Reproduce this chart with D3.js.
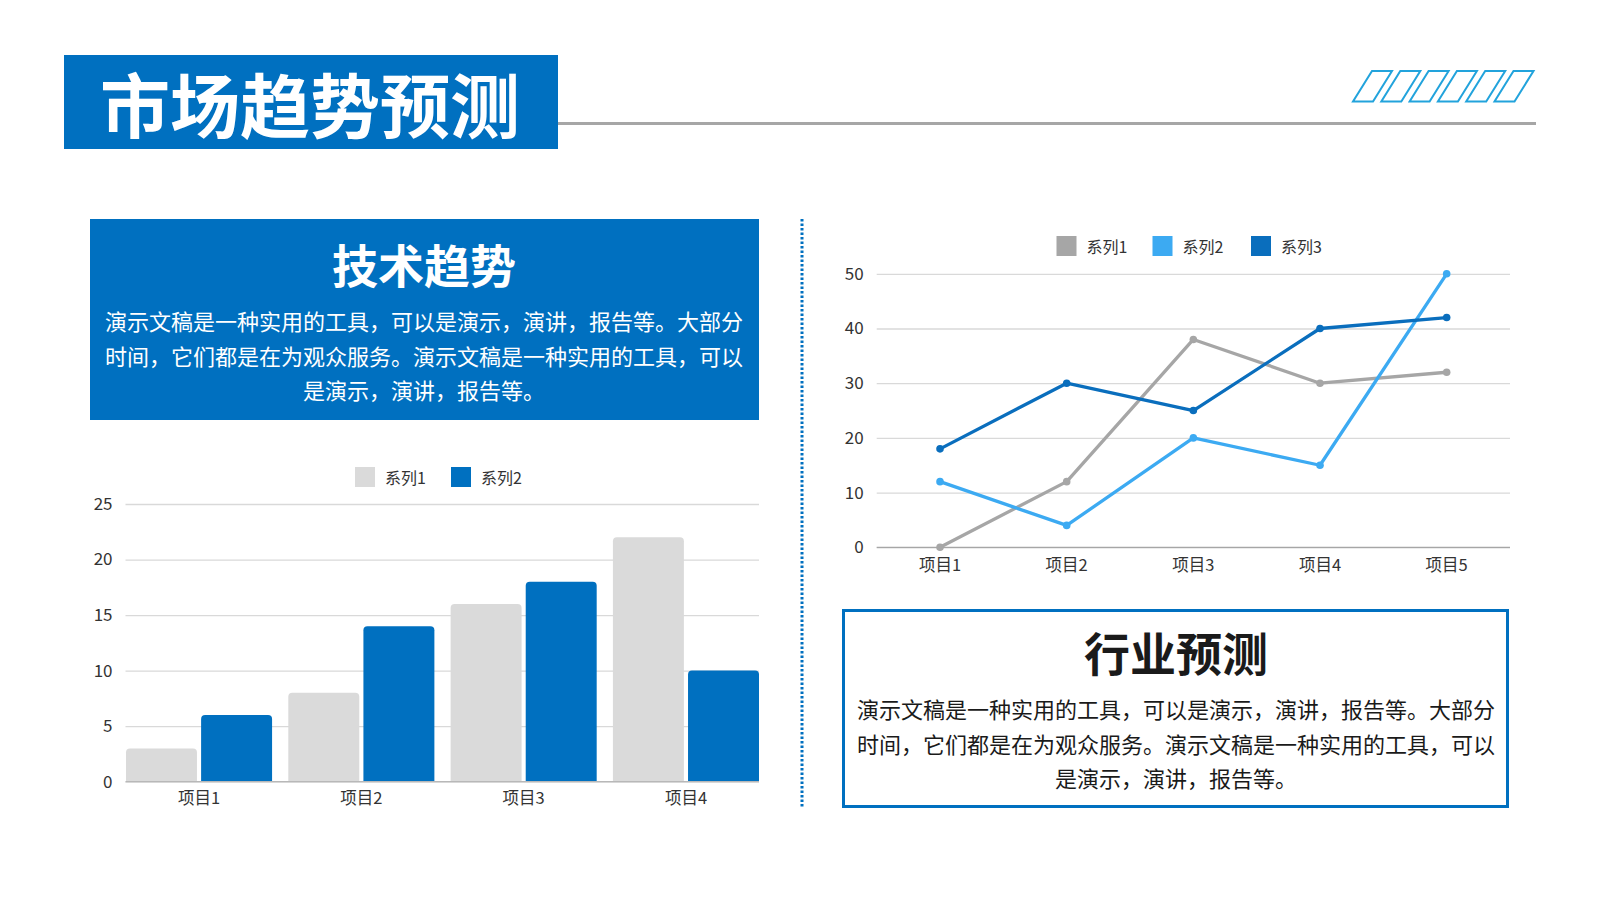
<!DOCTYPE html>
<html>
<head>
<meta charset="utf-8">
<script src="https://cdn.jsdelivr.net/npm/d3@7"></script>
<style>
body{margin:0;background:#fff;}
svg{display:block;}
text{font-family:"Noto Sans CJK SC","Noto Sans",sans-serif;}
</style>
</head>
<body>
<div id="canvas"></div>
<script>
//    data
var barCategories = ['项目1','项目2','项目3','项目4'];
var barSeries = ['系列1','系列2'];
var barValues1 = [3,8,16,22];
var barValues2 = [6,14,18,10];
var barTicks = [0,5,10,15,20,25];

var lineCategories = ['项目1','项目2','项目3','项目4','项目5'];
var lineSeries = ['系列1','系列2','系列3'];
var lineValues1 = [0,12,38,30,32];
var lineValues2 = [12,4,20,15,50];
var lineValues3 = [18,30,25,40,42];
var lineTicks = [0,10,20,30,40,50];

var bodyLines = [
    '演示文稿是一种实用的工具，可以是演示，演讲，报告等。大部分',
    '时间，它们都是在为观众服务。演示文稿是一种实用的工具，可以',
    '是演示，演讲，报告等。'
];

var blue = '#0070c0';
var barColors = ['#dadada', blue];
var lineColors = ['#a6a6a6', '#3caaf2', '#0a6ebd'];

//    svg
var svg = d3.select('#canvas')
    .append('svg')
    .attr('width',1600)
    .attr('height',900);

//    header
svg.append('line')
    .attr('x1',556).attr('x2',1536)
    .attr('y1',123.5).attr('y2',123.5)
    .attr('stroke','#a6a6a6')
    .attr('stroke-width',3);

svg.append('rect')
    .attr('x',64).attr('y',55)
    .attr('width',494).attr('height',94)
    .attr('fill',blue);

svg.append('text')
    .attr('x',310).attr('y',102.5)
    .attr('text-anchor','middle')
    .attr('dominant-baseline','central')
    .attr('fill','#fff')
    .style('font-size','70px')
    .style('font-weight',700)
    .text('市场趋势预测');

//    parallelograms top right
var para = svg.append('g').attr('class','para');
d3.range(6).forEach(function(i){
    var x = 1372 + i*28.3;
    para.append('path')
        .attr('d','M'+x+',71 L'+(x+20)+',71 L'+(x+1)+',101.5 L'+(x-19)+',101.5 Z')
        .attr('fill','none')
        .attr('stroke','#22a3dc')
        .attr('stroke-width',2);
});

//    dotted divider
svg.append('line')
    .attr('x1',802).attr('x2',802)
    .attr('y1',219).attr('y2',808)
    .attr('stroke',blue)
    .attr('stroke-width',3)
    .attr('stroke-dasharray','2.5,2');

//    text boxes
function textBlock(cx, headY, bodyY, head, color){
    svg.append('text')
        .attr('x',cx).attr('y',headY)
        .attr('text-anchor','middle')
        .attr('dominant-baseline','central')
        .attr('fill',color)
        .style('font-size','46px')
        .style('font-weight',700)
        .text(head);
    bodyLines.forEach(function(t,i){
        svg.append('text')
            .attr('x',cx).attr('y',bodyY + i*34.5)
            .attr('text-anchor','middle')
            .attr('dominant-baseline','central')
            .attr('fill',color)
            .style('font-size','22px')
            .text(t);
    });
}

svg.append('rect')
    .attr('x',90).attr('y',219)
    .attr('width',669).attr('height',201)
    .attr('fill',blue);
textBlock(424, 263, 320, '技术趋势', '#fff');

svg.append('rect')
    .attr('x',843.5).attr('y',610.5)
    .attr('width',664).attr('height',196)
    .attr('fill','none')
    .attr('stroke',blue)
    .attr('stroke-width',3);
textBlock(1176, 651, 708, '行业预测', '#1a1a1a');

//    legend helper
function legend(items, colors, xs, y){
    items.forEach(function(d,i){
        svg.append('rect')
            .attr('x',xs[i]).attr('y',y-10)
            .attr('width',20).attr('height',20)
            .attr('fill',colors[i]);
        svg.append('text')
            .attr('x',xs[i]+30).attr('y',y)
            .attr('dominant-baseline','central')
            .attr('fill','#333')
            .style('font-size','16px')
            .text(d);
    });
}

//    bar chart
var bx0 = 125.5, bx1 = 759, by0 = 781.7, by1 = 504;
var xBar = d3.scaleBand()
    .domain(barCategories)
    .range([bx0+0.5,bx1])
    .paddingInner(0.1)
    .paddingOuter(0);
var xSub = d3.scaleBand()
    .domain(barSeries)
    .range([0,xBar.bandwidth()])
    .paddingInner(0.055);
var yBar = d3.scaleLinear()
    .domain([0,25])
    .range([by0,by1]);

var bAxis = svg.append('g')
    .attr('transform','translate('+bx0+',0)')
    .call(d3.axisLeft(yBar).tickValues(barTicks).tickSize(-(bx1-bx0)).tickPadding(13));
bAxis.select('.domain').remove();
bAxis.selectAll('line').attr('stroke','#d9d9d9').attr('stroke-width',1.3);
bAxis.selectAll('text')
    .attr('fill','#333')
    .style('font-size','17px')
    .style('font-family','"Noto Sans CJK SC",sans-serif');

function roundTop(x,y,w,h,r){
    return 'M'+x+','+(y+h)+' L'+x+','+(y+r)+' Q'+x+','+y+' '+(x+r)+','+y+
        ' L'+(x+w-r)+','+y+' Q'+(x+w)+','+y+' '+(x+w)+','+(y+r)+
        ' L'+(x+w)+','+(y+h)+' Z';
}

var barData = [barValues1, barValues2];
barData.forEach(function(vals,s){
    svg.append('g').selectAll('path')
        .data(vals)
        .enter()
        .append('path')
        .attr('d',function(d,i){
            var x = xBar(barCategories[i]) + xSub(barSeries[s]);
            return roundTop(x, yBar(d), xSub.bandwidth(), by0 - yBar(d), 4);
        })
        .attr('fill',barColors[s]);
});

svg.append('line')
    .attr('x1',bx0).attr('x2',bx1)
    .attr('y1',by0).attr('y2',by0)
    .attr('stroke','#b8b8b8')
    .attr('stroke-width',1.3);

svg.append('g').selectAll('text')
    .data(barCategories)
    .enter()
    .append('text')
    .attr('x',function(d){ return xBar(d) + xBar.bandwidth()/2; })
    .attr('y',797)
    .attr('text-anchor','middle')
    .attr('dominant-baseline','central')
    .attr('fill','#333')
    .style('font-size','16.5px')
    .text(function(d){ return d; });

legend(barSeries, barColors, [355,451], 477);

//    line chart
var lx0 = 876.7, lx1 = 1510, ly0 = 547.3, ly1 = 273.8;
var xLine = d3.scalePoint()
    .domain(lineCategories)
    .range([lx0,lx1])
    .padding(0.5);
var yLine = d3.scaleLinear()
    .domain([0,50])
    .range([ly0,ly1]);

var lAxis = svg.append('g')
    .attr('transform','translate('+lx0+',0)')
    .call(d3.axisLeft(yLine).tickValues(lineTicks).tickSize(-(lx1-lx0)).tickPadding(13));
lAxis.select('.domain').remove();
lAxis.selectAll('line').attr('stroke','#d9d9d9').attr('stroke-width',1.3);
lAxis.selectAll('text')
    .attr('fill','#333')
    .style('font-size','17px')
    .style('font-family','"Noto Sans CJK SC",sans-serif');

svg.append('line')
    .attr('x1',lx0).attr('x2',lx1)
    .attr('y1',ly0).attr('y2',ly0)
    .attr('stroke','#a6a6a6')
    .attr('stroke-width',1.3);

var line = d3.line()
    .x(function(d,i){ return xLine(lineCategories[i]); })
    .y(function(d){ return yLine(d); });

var lineData = [lineValues1, lineValues2, lineValues3];
lineData.forEach(function(vals,s){
    var g = svg.append('g');
    g.append('path')
        .attr('d',line(vals))
        .attr('fill','none')
        .attr('stroke',lineColors[s])
        .attr('stroke-width',3.3)
        .attr('stroke-linejoin','round');
    g.selectAll('circle')
        .data(vals)
        .enter()
        .append('circle')
        .attr('cx',function(d,i){ return xLine(lineCategories[i]); })
        .attr('cy',function(d){ return yLine(d); })
        .attr('r',3.8)
        .attr('fill',lineColors[s]);
});

svg.append('g').selectAll('text')
    .data(lineCategories)
    .enter()
    .append('text')
    .attr('x',function(d){ return xLine(d); })
    .attr('y',563.5)
    .attr('text-anchor','middle')
    .attr('dominant-baseline','central')
    .attr('fill','#333')
    .style('font-size','16.5px')
    .text(function(d){ return d; });

legend(lineSeries, lineColors, [1056.5,1152.5,1251], 246);
</script>
</body>
</html>
